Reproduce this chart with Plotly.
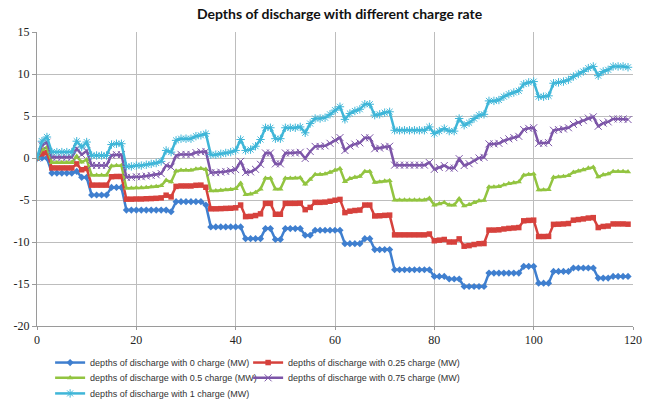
import plotly.graph_objects as go

hours = list(range(120))

dod_0 = [
    0, 0, 0, -1.8, -1.8, -1.8, -1.8, -1.8, -1.6, -2.3,
    -2.3, -4.4, -4.4, -4.4, -4.4, -3.5, -3.5, -3.5, -6.2, -6.2,
    -6.2, -6.2, -6.2, -6.2, -6.2, -6.2, -6.2, -6.4, -5.2, -5.2,
    -5.2, -5.2, -5.2, -5.2, -5.6, -8.2, -8.2, -8.2, -8.2, -8.2,
    -8.2, -8.2, -9.6, -9.6, -9.6, -9.6, -8.4, -8.4, -9.7, -9.7,
    -8.4, -8.4, -8.4, -8.4, -9.2, -9.2, -8.6, -8.6, -8.6, -8.6,
    -8.6, -8.6, -10.2, -10.2, -10.2, -10.2, -9.6, -9.6, -10.9, -10.9,
    -10.9, -10.9, -13.3, -13.3, -13.3, -13.3, -13.3, -13.3, -13.3, -13.3,
    -14.1, -14.1, -14.1, -14.4, -14.4, -14.4, -15.3, -15.3, -15.3, -15.3,
    -15.3, -13.7, -13.7, -13.7, -13.7, -13.7, -13.7, -13.7, -12.9, -12.9,
    -12.9, -14.9, -14.9, -14.9, -13.5, -13.5, -13.5, -13.5, -13.1, -13.1,
    -13.1, -13.1, -13.1, -14.3, -14.3, -14.3, -14.1, -14.1, -14.1, -14.1,
]

dod_025 = [
    0, 0.5, 0.63, -1.18, -1.18, -1.18, -1.18, -1.18, -0.7, -1.4,
    -1.25, -3.23, -3.23, -3.23, -3.23, -2.23, -2.2, -2.2, -4.9, -4.9,
    -4.88, -4.88, -4.85, -4.83, -4.8, -4.75, -4.43, -4.63, -3.38, -3.33,
    -3.33, -3.33, -3.25, -3.23, -3.48, -6.05, -6.05, -6.03, -6.0, -5.98,
    -5.93, -5.6, -6.98, -6.95, -6.85, -6.65, -5.4, -5.4, -6.7, -6.7,
    -5.4, -5.4, -5.4, -5.38, -6.15, -5.88, -5.28, -5.28, -5.25, -5.15,
    -5.03, -4.93, -6.5, -6.33, -6.25, -6.2, -5.6, -5.6, -6.9, -6.88,
    -6.83, -6.8, -9.15, -9.15, -9.15, -9.15, -9.15, -9.15, -9.15, -9.05,
    -9.85, -9.78, -9.7, -10.0, -10.0, -9.63, -10.5, -10.43, -10.3, -10.2,
    -10.18, -8.58, -8.58, -8.55, -8.45, -8.38, -8.33, -8.28, -7.48, -7.43,
    -7.4, -9.35, -9.35, -9.33, -7.9, -7.88, -7.85, -7.8, -7.4, -7.33,
    -7.25, -7.15, -7.1, -8.28, -8.15, -8.1, -7.85, -7.85, -7.85, -7.88,
]

dod_05 = [
    0, 1.0, 1.25, -0.55, -0.55, -0.55, -0.55, -0.55, 0.2, -0.5,
    -0.2, -2.05, -2.05, -2.05, -2.05, -0.95, -0.9, -0.9, -3.6, -3.6,
    -3.55, -3.55, -3.5, -3.45, -3.4, -3.3, -2.65, -2.85, -1.55, -1.45,
    -1.45, -1.45, -1.3, -1.25, -1.35, -3.9, -3.9, -3.85, -3.8, -3.75,
    -3.65, -3.0, -4.35, -4.3, -4.1, -3.7, -2.4, -2.4, -3.7, -3.7,
    -2.4, -2.4, -2.4, -2.35, -3.1, -2.55, -1.95, -1.95, -1.9, -1.7,
    -1.45, -1.25, -2.8, -2.45, -2.3, -2.2, -1.6, -1.6, -2.9, -2.85,
    -2.75, -2.7, -5.0, -5.0, -5.0, -5.0, -5.0, -5.0, -5.0, -4.8,
    -5.6, -5.45, -5.3, -5.6, -5.6, -4.85, -5.7, -5.55, -5.3, -5.1,
    -5.05, -3.45, -3.45, -3.4, -3.2, -3.05, -2.95, -2.85, -2.05, -1.95,
    -1.9, -3.8, -3.8, -3.75, -2.3, -2.25, -2.2, -2.1, -1.7, -1.55,
    -1.4, -1.2, -1.1, -2.25, -2.0, -1.9, -1.6, -1.6, -1.6, -1.65,
]

dod_075 = [
    0, 1.5, 1.88, 0.08, 0.08, 0.08, 0.08, 0.08, 1.1, 0.4,
    0.85, -0.88, -0.88, -0.88, -0.88, 0.33, 0.4, 0.4, -2.3, -2.3,
    -2.23, -2.23, -2.15, -2.08, -2.0, -1.85, -0.88, -1.08, 0.28, 0.43,
    0.43, 0.43, 0.65, 0.73, 0.78, -1.75, -1.75, -1.68, -1.6, -1.53,
    -1.38, -0.4, -1.73, -1.65, -1.35, -0.75, 0.6, 0.6, -0.7, -0.7,
    0.6, 0.6, 0.6, 0.68, -0.05, 0.78, 1.38, 1.38, 1.45, 1.75,
    2.13, 2.43, 0.9, 1.43, 1.65, 1.8, 2.4, 2.4, 1.1, 1.18,
    1.33, 1.4, -0.85, -0.85, -0.85, -0.85, -0.85, -0.85, -0.85, -0.55,
    -1.35, -1.13, -0.9, -1.2, -1.2, -0.08, -0.9, -0.68, -0.3, 0.0,
    0.08, 1.68, 1.68, 1.75, 2.05, 2.28, 2.43, 2.58, 3.38, 3.53,
    3.6, 1.75, 1.75, 1.83, 3.3, 3.38, 3.45, 3.6, 4.0, 4.23,
    4.45, 4.75, 4.9, 3.78, 4.15, 4.3, 4.65, 4.65, 4.65, 4.58,
]

dod_1 = [
    0, 2.0, 2.5, 0.7, 0.7, 0.7, 0.7, 0.7, 2.0, 1.3,
    1.9, 0.3, 0.3, 0.3, 0.3, 1.6, 1.7, 1.7, -1.0, -1.0,
    -0.9, -0.9, -0.8, -0.7, -0.6, -0.4, 0.9, 0.7, 2.1, 2.3,
    2.3, 2.3, 2.6, 2.7, 2.9, 0.4, 0.4, 0.5, 0.6, 0.7,
    0.9, 2.2, 0.9, 1.0, 1.4, 2.2, 3.6, 3.6, 2.3, 2.3,
    3.6, 3.6, 3.6, 3.7, 3.0, 4.1, 4.7, 4.7, 4.8, 5.2,
    5.7, 6.1, 4.6, 5.3, 5.6, 5.8, 6.4, 6.4, 5.1, 5.2,
    5.4, 5.5, 3.3, 3.3, 3.3, 3.3, 3.3, 3.3, 3.3, 3.7,
    2.9, 3.2, 3.5, 3.2, 3.2, 4.7, 3.9, 4.2, 4.7, 5.1,
    5.2, 6.8, 6.8, 6.9, 7.3, 7.6, 7.8, 8.0, 8.8, 9.0,
    9.1, 7.3, 7.3, 7.4, 8.9, 9.0, 9.1, 9.3, 9.7, 10.0,
    10.3, 10.7, 10.9, 9.8, 10.3, 10.5, 10.9, 10.9, 10.9, 10.8,
]

x_ticks = [0, 20, 40, 60, 80, 100, 120]
y_ticks = [15, 10, 5, 0, -5, -10, -15, -20]
y_tick_text = ["15", "10", "5", "0", "-5", "-10", "-15", "-20"]

# (name, values, colour, marker, legend row, entry width)
series = [
    ("depths of discharge with 0 charge (MW)", dod_0, "#3f7fcf", "diamond", "legend", 153),
    ("depths of discharge with 0.25 charge (MW)", dod_025, "#d6413c", "square", "legend", 190),
    ("depths of discharge with 0.5 charge (MW)", dod_05, "#92c440", "triangle-up", "legend2", 153),
    ("depths of discharge with 0.75 charge (MW)", dod_075, "#7c55a8", "x-thin", "legend2", 190),
    ("depths of discharge with 1 charge (MW)", dod_1, "#3fb6d8", "asterisk", "legend3", 190),
]

fig = go.Figure()
for name, vals, color, sym, leg, lw in series:
    open_sym = sym in ("x-thin", "asterisk")
    fig.add_trace(go.Scatter(
        x=hours, y=vals, name=name, mode="lines+markers",
        legend=leg, legendwidth=lw,
        line=dict(color=color, width=2.5),
        marker=dict(
            symbol=sym, size=7 if open_sym else 5.5, color=color,
            line=dict(color=color, width=1 if open_sym else 0),
        ),
    ))

axis_font = dict(family="Liberation Serif", size=12, color="#222222")
fig.update_xaxes(
    range=[0, 120], tickvals=x_ticks,
    showgrid=True, gridcolor="#bdbdbd", gridwidth=1,
    showline=True, linecolor="#9a9a9a", linewidth=1,
    ticks="outside", ticklen=3, tickcolor="#9a9a9a",
    tickfont=axis_font, zeroline=False,
)
fig.update_yaxes(
    range=[-20, 15], tickvals=y_ticks, ticktext=y_tick_text,
    showgrid=True, gridcolor="#bdbdbd", gridwidth=1,
    showline=True, linecolor="#9a9a9a", linewidth=1,
    ticks="outside", ticklen=4, tickcolor="#9a9a9a",
    tickfont=axis_font, zeroline=False,
)

legend_style = dict(
    orientation="h", x=0.022, xanchor="left", yanchor="top",
    entrywidthmode="pixels",
    font=dict(family="Liberation Sans", size=9, color="#333333"),
    bgcolor="rgba(0,0,0,0)",
)

fig.update_layout(
    width=653, height=406,
    margin=dict(l=37, r=20, t=32, b=80, autoexpand=False),
    paper_bgcolor="white", plot_bgcolor="white",
    title=dict(
        text="<b>Depths of discharge with different charge rate</b>",
        font=dict(family="Lato", size=14, color="#111111"),
        x=0.52, xanchor="center", y=0.965, yanchor="middle",
    ),
    legend=dict(legend_style, y=-0.075),
    legend2=dict(legend_style, y=-0.127),
    legend3=dict(legend_style, y=-0.180),
    showlegend=True,
)

fig.write_html("out.html")
